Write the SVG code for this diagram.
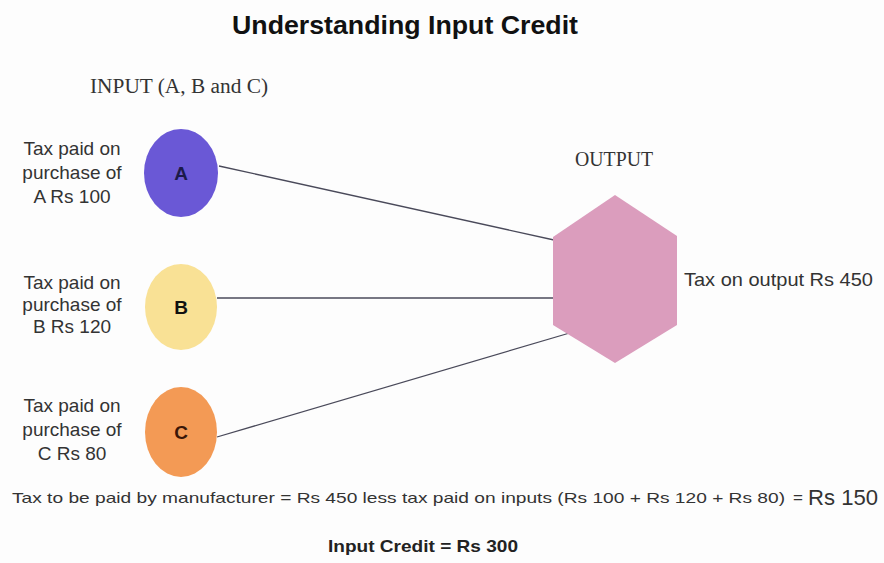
<svg xmlns="http://www.w3.org/2000/svg" width="884" height="563" viewBox="0 0 884 563">
<style>
.lbl{font-family:"Liberation Sans",Arial,sans-serif;font-size:19px;fill:#333;text-anchor:middle}
.ser{font-family:"Liberation Serif","Times New Roman",serif;font-size:20px;fill:#333}
.let{font-family:"Liberation Sans",Arial,sans-serif;font-size:19px;font-weight:bold;text-anchor:middle}
.conn{stroke:#4a4a5a;stroke-width:1.3;fill:none}
</style>
<rect width="884" height="563" fill="#fdfdfd"/>
<text x="232" y="34" font-family="'Liberation Sans',Arial,sans-serif" font-size="26" font-weight="bold" fill="#111" textLength="346" lengthAdjust="spacingAndGlyphs">Understanding Input Credit</text>
<text class="ser" x="90" y="93" textLength="178" lengthAdjust="spacingAndGlyphs">INPUT (A, B and C)</text>
<g id="connectors">
<line class="conn" x1="219" y1="166" x2="554" y2="240"/>
<line class="conn" x1="217" y1="298" x2="554" y2="298"/>
<line class="conn" x1="217" y1="437" x2="573" y2="332"/>
</g>
<g id="nodeA">
<ellipse cx="181" cy="173" rx="37" ry="44" fill="#6a58d6"/>
<text class="let" x="181" y="180" fill="#1c1a4a">A</text>
<text class="lbl" x="72" y="155">Tax paid on</text>
<text class="lbl" x="72" y="179">purchase of</text>
<text class="lbl" x="72" y="203">A Rs 100</text>
</g>
<g id="nodeB">
<ellipse cx="181" cy="307" rx="36" ry="43" fill="#f9e195"/>
<text class="let" x="181" y="314" fill="#111">B</text>
<text class="lbl" x="72" y="289">Tax paid on</text>
<text class="lbl" x="72" y="311">purchase of</text>
<text class="lbl" x="72" y="333">B Rs 120</text>
</g>
<g id="nodeC">
<ellipse cx="181" cy="432" rx="36" ry="45" fill="#f39a55"/>
<text class="let" x="181" y="439" fill="#3a1608">C</text>
<text class="lbl" x="72" y="412">Tax paid on</text>
<text class="lbl" x="72" y="436">purchase of</text>
<text class="lbl" x="72" y="460">C Rs 80</text>
</g>
<g id="output">
<text class="ser" x="575" y="166" textLength="78" lengthAdjust="spacingAndGlyphs">OUTPUT</text>
<polygon points="615,195 677,236 677,325 615,363 553,325 553,237" fill="#db9dbd"/>
<text x="684" y="286" font-family="'Liberation Sans',Arial,sans-serif" font-size="19" fill="#333" textLength="189" lengthAdjust="spacingAndGlyphs">Tax on output Rs 450</text>
</g>
<g id="summary">
<text x="12" y="503" font-family="'Liberation Sans',Arial,sans-serif" font-size="15" fill="#333" textLength="773" lengthAdjust="spacingAndGlyphs">Tax to be paid by manufacturer = Rs 450 less tax paid on inputs (Rs 100 + Rs 120 + Rs 80)</text>
<text x="793" y="503" font-family="'Liberation Sans',Arial,sans-serif" font-size="17" fill="#333">=</text>
<text x="808" y="505" font-family="'Liberation Sans',Arial,sans-serif" font-size="22" fill="#333" textLength="70" lengthAdjust="spacingAndGlyphs">Rs 150</text>
<text x="328" y="552" font-family="'Liberation Sans',Arial,sans-serif" font-size="17" font-weight="bold" fill="#222" textLength="190" lengthAdjust="spacingAndGlyphs">Input Credit = Rs 300</text>
</g>
</svg>
